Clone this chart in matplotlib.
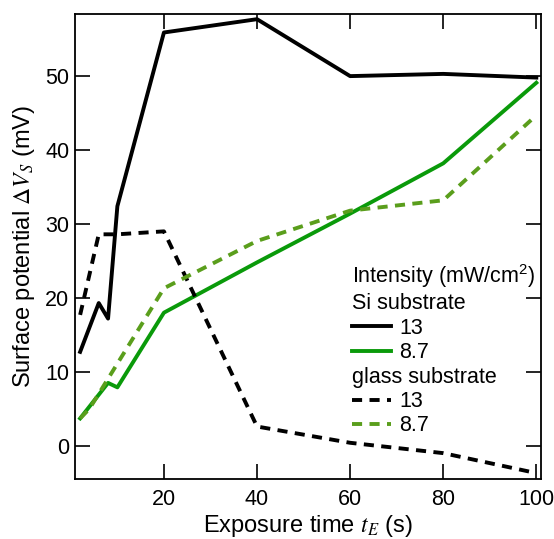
import matplotlib.pyplot as plt
from matplotlib.lines import Line2D

plt.rcParams['font.family'] = ['Liberation Sans', 'DejaVu Sans']
plt.rcParams['mathtext.fontset'] = 'stix'

# Si substrate, 13 mW/cm2
si13_t = [2, 6, 8, 10, 20, 40, 60, 80, 100]
si13_v = [12.7, 19.3, 17.2, 32.4, 55.9, 57.7, 50.0, 50.3, 49.8]

# Si substrate, 8.7 mW/cm2
si87_t = [2, 8, 10, 20, 40, 60, 80, 100]
si87_v = [3.7, 8.5, 7.9, 18.0, 24.8, 31.4, 38.2, 49.1]

# glass substrate, 13 mW/cm2
gl13_t = [2, 6, 10, 20, 40, 60, 80, 100]
gl13_v = [17.7, 28.6, 28.6, 29.0, 2.6, 0.4, -1.0, -3.7]

# glass substrate, 8.7 mW/cm2
gl87_t = [2, 4, 20, 40, 60, 80, 100]
gl87_v = [3.7, 5.0, 21.3, 27.7, 31.8, 33.2, 44.7]

green = "#0a9a0a"
lightgreen = "#5a9e1c"
dash = (0, (2.6, 1.9))
lw = 2.8

fig = plt.figure(figsize=(5.54, 5.39), dpi=100)
ax = fig.add_axes([0.1354, 0.1113, 0.8411, 0.8627])

ax.plot(si13_t, si13_v, color="black", lw=lw)
ax.plot(si87_t, si87_v, color=green, lw=lw)
ax.plot(gl13_t, gl13_v, color="black", lw=lw, linestyle=dash)
ax.plot(gl87_t, gl87_v, color=lightgreen, lw=lw, linestyle=dash)

ax.set_xlim(0.9, 101)
ax.set_ylim(-4.5, 58.4)
ax.set_xticks([20, 40, 60, 80, 100])
ax.set_yticks([0, 10, 20, 30, 40, 50])
ax.tick_params(direction="in", length=11, width=1.2, labelsize=15.5,
               top=True, right=True)
ax.tick_params(axis="x", pad=7)
ax.tick_params(axis="y", pad=4)
for s in ax.spines.values():
    s.set_linewidth(1.3)

ax.set_xlabel(r"Exposure time $t_E$ (s)", fontsize=17, labelpad=2)
ax.set_ylabel(r"Surface potential $\Delta V_S$ (mV)", fontsize=17, labelpad=6)

# legend with header rows
blank = Line2D([], [], color="none")
handles = [blank, blank,
           Line2D([], [], color="black", lw=lw),
           Line2D([], [], color=green, lw=lw),
           blank,
           Line2D([], [], color="black", lw=lw, linestyle=dash),
           Line2D([], [], color=lightgreen, lw=lw, linestyle=dash)]
labels = [r"Intensity (mW/cm$^\mathregular{2}$)", "Si substrate", "13", "8.7",
          "glass substrate", "13", "8.7"]
headers = [labels[0], labels[1], labels[4]]
leg = ax.legend(handles, labels, loc="upper left", bbox_to_anchor=(0.594, 0.466),
                frameon=False, fontsize=15.5, borderpad=0, borderaxespad=0,
                handlelength=1.8, handletextpad=0.4, labelspacing=0.16)
for row in leg._legend_handle_box.get_children()[0].get_children():
    da, txt = row.get_children()
    if txt.get_text() in headers:
        da.width = 0
        row.sep = 0

fig.savefig("out.png", dpi=100)
